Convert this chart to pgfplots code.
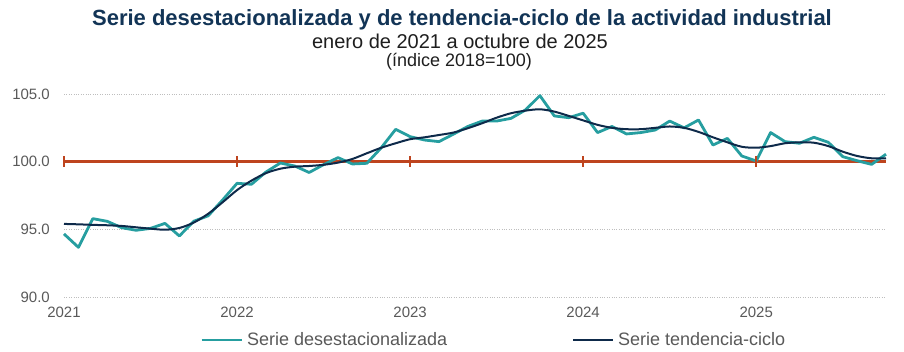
\documentclass[border=0pt]{standalone}
\usepackage{pgfplots}
\pgfplotsset{compat=1.18}
\usepackage{fontspec}
\setmainfont{Liberation Sans}
\definecolor{teal1}{RGB}{38,158,160}
\definecolor{navy1}{RGB}{14,42,74}
\definecolor{red1}{RGB}{190,68,30}
\definecolor{titlec}{RGB}{18,52,86}
\definecolor{txtgray}{RGB}{89,89,89}
\definecolor{subc}{RGB}{30,30,30}
\definecolor{gridc}{RGB}{190,190,190}
\begin{document}
\begin{tikzpicture}
\path[use as bounding box] (0bp,0bp) rectangle (904bp,352bp);
\node[anchor=base, text=titlec, inner sep=0] at (462bp,326bp) {\fontsize{22bp}{26bp}\selectfont\bfseries Serie desestacionalizada y de tendencia-ciclo de la actividad industrial};
\node[anchor=base, text=subc, inner sep=0] at (460bp,303bp) {\fontsize{20bp}{24bp}\selectfont enero de 2021 a octubre de 2025};
\node[anchor=base, text=subc, inner sep=0] at (459bp,285bp) {\fontsize{18bp}{22bp}\selectfont (índice 2018=100)};
\begin{axis}[
  at={(64bp,55bp)}, anchor=south west,
  scale only axis, width=822bp, height=203bp,
  xmin=0, xmax=57, ymin=90, ymax=105,
  axis line style={draw=none},
  major tick length=0pt,
  xtick={0,12,24,36,48},
  xticklabels={2021,2022,2023,2024,2025},
  ytick={90,95,100,105},
  yticklabel={\pgfmathprintnumber[fixed,fixed zerofill,precision=1]{\tick}},
  /pgf/number format/assume math mode=true,
  ymajorgrids,
  grid style={gridc, dotted, line width=0.8bp},
  tick label style={font=\fontsize{15bp}{18bp}\selectfont, text=txtgray, inner sep=0pt},
  yticklabel style={anchor=east, xshift=-14bp},
  xticklabel style={anchor=north, yshift=-10bp},
  clip=false,
  legend columns=2,
  legend style={at={(axis description cs:0.1655,-0.2118)}, anchor=west, draw=none, fill=none, inner sep=0pt,
    nodes={inner sep=0pt, font=\fontsize{18bp}{22bp}\selectfont, text=txtgray},
    /tikz/column sep=4bp,
    /tikz/every even column/.append style={column sep=125bp}},
  legend image code/.code={\draw[#1] (0bp,0bp) -- (40bp,0bp);},
]
\addplot[red1, line width=2.4bp, forget plot] coordinates {(0,100) (57,100)};
\addplot[red1, line width=1.6bp, only marks, mark=|, mark size=5.5bp, forget plot] coordinates {(0,100) (12,100) (24,100) (36,100) (48,100)};
\addplot[teal1, line width=2.8bp, line join=round] coordinates {
(0,94.66) (1,93.67) (2,95.79) (3,95.59) (4,95.12) (5,94.93) (6,95.07) (7,95.44) (8,94.51) (9,95.6)
(10,96.0) (11,97.17) (12,98.40) (13,98.33) (14,99.23) (15,99.9) (16,99.68) (17,99.2) (18,99.78) (19,100.3)
(20,99.83) (21,99.88) (22,101.03) (23,102.39) (24,101.85) (25,101.6) (26,101.48) (27,102.03) (28,102.6) (29,103.0)
(30,103.0) (31,103.2) (32,103.82) (33,104.88) (34,103.38) (35,103.25) (36,103.58) (37,102.15) (38,102.6) (39,102.05)
(40,102.15) (41,102.34) (42,103.0) (43,102.5) (44,103.08) (45,101.23) (46,101.72) (47,100.42) (48,100.05) (49,102.15)
(50,101.48) (51,101.36) (52,101.8) (53,101.43) (54,100.37) (55,100.07) (56,99.8) (57,100.55)};
\addlegendentry{Serie desestacionalizada}
\addplot[navy1, line width=2bp, smooth] coordinates {
(0,95.4) (1,95.37) (2,95.33) (3,95.3) (4,95.25) (5,95.15) (6,95.05) (7,94.97) (8,95.1) (9,95.5)
(10,96.15) (11,97.0) (12,97.9) (13,98.6) (14,99.15) (15,99.48) (16,99.63) (17,99.68) (18,99.77) (19,99.93)
(20,100.2) (21,100.62) (22,101.03) (23,101.36) (24,101.66) (25,101.8) (26,101.97) (27,102.15) (28,102.47) (29,102.84)
(30,103.25) (31,103.58) (32,103.77) (33,103.87) (34,103.7) (35,103.38) (36,103.05) (37,102.72) (38,102.5) (39,102.4)
(40,102.4) (41,102.5) (42,102.6) (43,102.5) (44,102.2) (45,101.8) (46,101.43) (47,101.1) (48,101.03) (49,101.15)
(50,101.36) (51,101.43) (52,101.4) (53,101.15) (54,100.74) (55,100.42) (56,100.25) (57,100.25)};
\addlegendentry{Serie tendencia-ciclo}
\end{axis}
\end{tikzpicture}
\end{document}
